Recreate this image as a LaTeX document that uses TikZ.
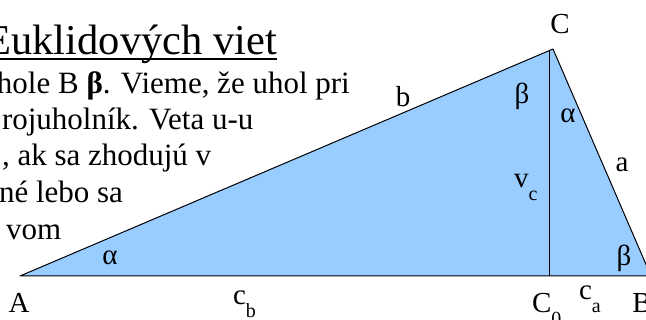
\documentclass[tikz,border=0pt]{standalone}
\usepackage{fontspec}
\setmainfont{Liberation Serif}
\newcommand{\sublbl}[2]{#1\raisebox{-13pt}{\fontsize{20}{20}\selectfont #2}}
\begin{document}
\begin{tikzpicture}[
    x=1pt, y=-1pt,
    every node/.style={inner sep=0pt, outer sep=0pt},
    txt/.style={anchor=base west, font=\fontsize{31}{36}\selectfont},
    lbl/.style={anchor=base, font=\fontsize{29}{30}\selectfont},
    sublbl/.style={anchor=base west, font=\fontsize{29}{30}\selectfont},
    tri/.style={fill=triblue, draw=black, line width=1pt, line join=round},
    alt/.style={draw=black, line width=0.8pt}
  ]
  \definecolor{triblue}{HTML}{99CCFF}
  \clip (0,0) rectangle (646,320);

  % Text on the left, cut off by the page edge
  \node[anchor=base west, font=\fontsize{42.5}{44}\selectfont] (title) at (-14.5,55) {Euklidových viet};
  \draw[line width=1.5pt] ([yshift=-4pt]title.base west) -- ([yshift=-4pt]title.base east);
  \node[txt] (line1) at (-3,94) {hole B \textbf{β}. Vieme, že uhol pri};
  \node[txt] (line2) at (2,130) {rojuholník. Veta u-u};
  \node[txt] (line3) at (2,166) {, ak sa zhodujú v};
  \node[txt] (line4) at (-1,203) {né lebo sa};
  \node[txt] (line5) at (6,240) {vom};

  % Vertices of the triangle and foot of the height
  \coordinate (A) at (20,276);
  \coordinate (C) at (553,49);
  \coordinate (B) at (651,276);
  \coordinate (C0) at (549,276);
  \coordinate (H) at (549,51);

  \filldraw[tri] (A) -- (C) -- (B) -- cycle;
  \draw[alt] (C0) -- (H);

  % Labels of vertices
  \node[lbl] (labA) at (19,313) {A};
  \node[lbl] (labB) at (642,313) {B};
  \node[lbl] (labC) at (560,34) {C};
  \node[sublbl] (labC0) at (532,313) {\sublbl{C}{0}};

  % Labels of sides and segments
  \node[lbl] (laba) at (622,172) {a};
  \node[lbl] (labb) at (403,107) {b};
  \node[sublbl] (labvc) at (514,188) {\sublbl{v}{c}};
  \node[sublbl] (labcb) at (233,305) {\sublbl{c}{b}};
  \node[sublbl] (labca) at (579,300) {\sublbl{c}{a}};

  % Labels of angles
  \node[lbl] (alphaA) at (110,265) {α};
  \node[lbl] (betaC) at (522,104) {β};
  \node[lbl] (alphaC) at (568,123) {α};
  \node[lbl] (betaB) at (624,266) {β};
\end{tikzpicture}
\end{document}
